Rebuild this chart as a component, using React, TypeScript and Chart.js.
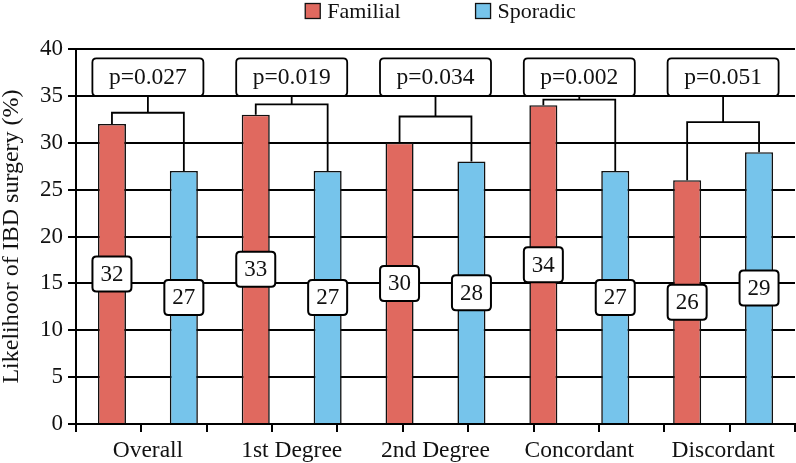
import React, { useEffect, useRef } from 'react';
import { Chart, registerables } from 'chart.js';

Chart.register(...registerables);

const categories = ['Overall', '1st Degree', '2nd Degree', 'Concordant', 'Discordant'];
const seriesNames = ['Familial', 'Sporadic'];
const familial = [32, 33, 30, 34, 26];
const sporadic = [27, 27, 28, 27, 29];
const pValues = ['p=0.027', 'p=0.019', 'p=0.034', 'p=0.002', 'p=0.051'];
const bracketLevels = [33.2, 34.1, 32.8, 34.6, 32.2];
const pBoxRange = [35, 39];
const yMin = 0;
const yMax = 40;
const yStep = 5;
const yTitle = 'Likelihoor of IBD surgery (%)';

const colors = ['#E0695F', '#76C4EB'];
const FONT = "'Liberation Serif', 'Times New Roman', serif";

function roundRect(ctx: CanvasRenderingContext2D, x: number, y: number, w: number, h: number, r: number) {
  ctx.beginPath();
  ctx.moveTo(x + r, y);
  ctx.lineTo(x + w - r, y);
  ctx.quadraticCurveTo(x + w, y, x + w, y + r);
  ctx.lineTo(x + w, y + h - r);
  ctx.quadraticCurveTo(x + w, y + h, x + w - r, y + h);
  ctx.lineTo(x + r, y + h);
  ctx.quadraticCurveTo(x, y + h, x, y + h - r);
  ctx.lineTo(x, y + r);
  ctx.quadraticCurveTo(x, y, x + r, y);
  ctx.closePath();
}

const annotatePlugin = {
  id: 'annotate',
  afterDatasetsDraw(chart: any) {
    const ctx: CanvasRenderingContext2D = chart.ctx;
    const y = chart.scales.y;
    const m0 = chart.getDatasetMeta(0);
    const m1 = chart.getDatasetMeta(1);
    ctx.save();
    ctx.strokeStyle = '#000';
    ctx.lineWidth = 1.8;
    ctx.lineJoin = 'miter';
    const series = [familial, sporadic];
    categories.forEach((_, i) => {
      const x0 = m0.data[i].x;
      const x1 = m1.data[i].x;
      const xm = (x0 + x1) / 2;
      const yb = y.getPixelForValue(bracketLevels[i]);
      const ya = y.getPixelForValue(familial[i]);
      const yc = y.getPixelForValue(sporadic[i]);
      const boxBottom = y.getPixelForValue(pBoxRange[0]);
      const boxTop = y.getPixelForValue(pBoxRange[1]);
      ctx.beginPath();
      ctx.moveTo(x0, ya);
      ctx.lineTo(x0, yb);
      ctx.lineTo(x1, yb);
      ctx.lineTo(x1, yc);
      ctx.moveTo(xm, yb);
      ctx.lineTo(xm, boxBottom);
      ctx.stroke();

      const bw = 111;
      roundRect(ctx, xm - bw / 2, boxTop, bw, boxBottom - boxTop, 4);
      ctx.fillStyle = '#fff';
      ctx.fill();
      ctx.stroke();
      ctx.fillStyle = '#111';
      ctx.font = `23.5px ${FONT}`;
      ctx.textAlign = 'center';
      ctx.textBaseline = 'middle';
      ctx.fillText(pValues[i], xm, (boxTop + boxBottom) / 2 + 1);

      ctx.font = `23px ${FONT}`;
      [m0, m1].forEach((meta, d) => {
        const v = series[d][i];
        const cx = meta.data[i].x;
        const cy = y.getPixelForValue(v / 2);
        const w = 39;
        const h = 35;
        roundRect(ctx, cx - w / 2, cy - h / 2, w, h, 4);
        ctx.fillStyle = '#fff';
        ctx.fill();
        ctx.lineWidth = 2;
        ctx.stroke();
        ctx.lineWidth = 1.8;
        ctx.fillStyle = '#111';
        ctx.fillText(String(v), cx, cy + 1);
      });
    });
    ctx.restore();
  },
  afterDraw(chart: any) {
    const ctx: CanvasRenderingContext2D = chart.ctx;
    ctx.save();
    ctx.font = `22px ${FONT}`;
    ctx.textBaseline = 'middle';
    ctx.textAlign = 'left';
    const box = 15;
    const gapText = 7;
    const gapItem = 75;
    const widths = chart.data.datasets.map((ds: any) => box + gapText + ctx.measureText(ds.label).width);
    const total = widths.reduce((a: number, b: number) => a + b, 0) + gapItem * (widths.length - 1);
    const ca = chart.chartArea;
    let x = (ca.left + ca.right) / 2 + 5 - total / 2;
    const cy = 11;
    chart.data.datasets.forEach((ds: any, i: number) => {
      ctx.fillStyle = ds.backgroundColor;
      ctx.fillRect(x, cy - box / 2, box, box);
      ctx.strokeStyle = '#111';
      ctx.lineWidth = 1.3;
      ctx.strokeRect(x, cy - box / 2, box, box);
      ctx.fillStyle = '#111';
      ctx.fillText(ds.label, x + box + gapText, cy + 1);
      x += widths[i] + gapItem;
    });
    ctx.restore();
  },
};

export default function App() {
  const ref = useRef<HTMLCanvasElement>(null);
  useEffect(() => {
    document.body.style.margin = '0';
    const canvas = ref.current;
    if (!canvas) return;
    const chart = new Chart(canvas, {
      type: 'bar',
      data: {
        labels: categories,
        datasets: [
          {
            label: seriesNames[0],
            data: familial,
            backgroundColor: colors[0],
            borderColor: '#111',
            borderWidth: 1.6,
            categoryPercentage: 1,
            barPercentage: 0.39,
            xAxisID: 'x',
          },
          {
            label: seriesNames[1],
            data: sporadic,
            backgroundColor: colors[1],
            borderColor: '#111',
            borderWidth: 1.6,
            categoryPercentage: 1,
            barPercentage: 0.39,
            xAxisID: 'x',
          },
        ],
      },
      options: {
        responsive: false,
        animation: false,
        layout: { padding: { top: 49, right: 1, left: 0, bottom: 0 } },
        plugins: {
          legend: { display: false },
          tooltip: { enabled: false },
        },
        scales: {
          x: {
            type: 'category',
            position: 'bottom',
            weight: 1,
            grid: { display: false, drawTicks: false, tickLength: 0 },
            border: { display: false },
            ticks: { color: '#111', font: { family: FONT, size: 23.5 }, padding: 5, maxRotation: 0 },
            afterFit: (s: any) => {
              s.height = 31;
            },
          },
          x2: {
            type: 'linear',
            position: 'bottom',
            weight: 0,
            min: 0,
            max: categories.length * 2,
            ticks: { display: false, stepSize: 1 },
            grid: { drawOnChartArea: false, tickLength: 8, color: '#000', lineWidth: 2 },
            border: { display: true, color: '#000', width: 2 },
            afterFit: (s: any) => {
              s.height = 8;
            },
          },
          y: {
            min: yMin,
            max: yMax,
            ticks: { stepSize: yStep, color: '#111', font: { family: FONT, size: 23 }, padding: 5 },
            grid: { color: '#000', lineWidth: 2, tickLength: 8 },
            border: { display: true, color: '#000', width: 2 },
            title: {
              display: true,
              text: yTitle,
              color: '#111',
              font: { family: FONT, size: 24, lineHeight: 1 },
              padding: { top: 0, bottom: 0 },
            },
            afterFit: (s: any) => {
              s.width = 76;
            },
          },
        },
      },
      plugins: [annotatePlugin],
    });
    return () => chart.destroy();
  }, []);
  return (
    <div style={{ width: 796, height: 463 }}>
      <canvas ref={ref} width={796} height={463} />
    </div>
  );
}
